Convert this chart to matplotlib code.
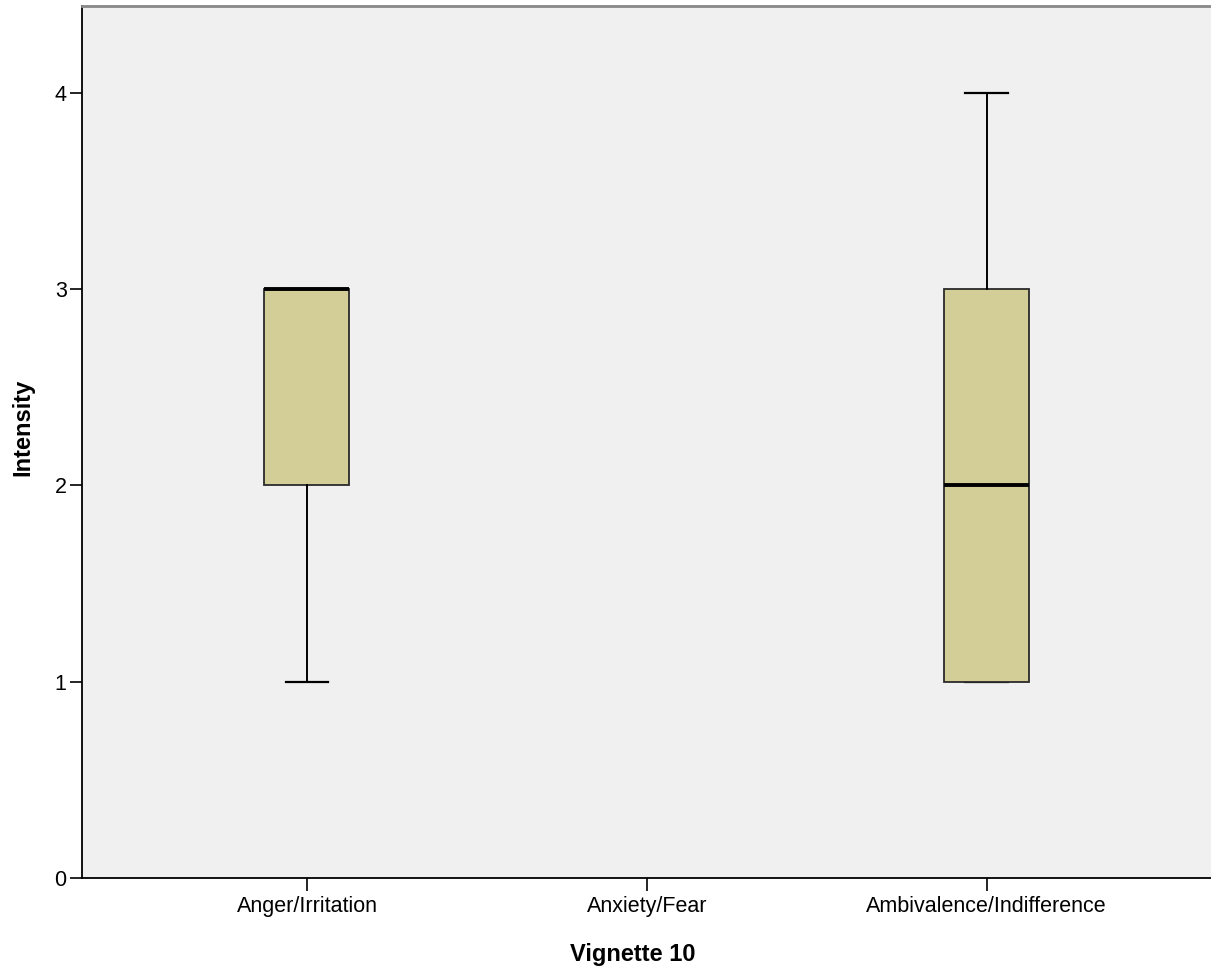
import numpy as np
import matplotlib.pyplot as plt

plt.rcParams['font.family'] = ['Liberation Sans', 'DejaVu Sans']

# Vignette 10 - intensity by emotion category
categories = ['Anger/Irritation', 'Anxiety/Fear', 'Ambivalence/Indifference']
whislo = [1, None, 1]
q1 = [2, None, 1]
med = [3, None, 2]
q3 = [3, None, 3]
whishi = [3, None, 4]
yticks = [0, 1, 2, 3, 4]

fig = plt.figure(figsize=(12.11, 9.71), dpi=100)
ax = fig.add_axes([0.0677, 0.0958, 0.9323, 0.898])
ax.set_facecolor('#f0f0f0')

positions = np.arange(1, len(categories) + 1)
stats = []
pos_used = []
for i, name in enumerate(categories):
    if med[i] is None:
        continue
    stats.append({'label': name, 'whislo': whislo[i], 'q1': q1[i], 'med': med[i],
                  'q3': q3[i], 'whishi': whishi[i], 'fliers': []})
    pos_used.append(positions[i])

ax.bxp(stats, positions=pos_used, widths=0.25, patch_artist=True,
       showfliers=False, manage_ticks=False,
       boxprops=dict(facecolor='#d3ce98', edgecolor='#2a2a2a', linewidth=1.3),
       medianprops=dict(color='black', linewidth=2.8),
       whiskerprops=dict(color='black', linewidth=1.4),
       capprops=dict(color='black', linewidth=1.6, zorder=1.5),
       capwidths=0.125)

ax.set_xlim(0.338, 3.66)
ax.set_ylim(0, 4.443)
ax.set_xticks(positions)
ax.set_xticklabels(categories)
ax.set_yticks(yticks)

ax.tick_params(axis='both', direction='out', length=9, width=1.2, labelsize=15.5,
               color='black', labelcolor='black')
ax.tick_params(axis='x', pad=4)
ax.tick_params(axis='y', pad=2)

for s in ['left', 'bottom']:
    ax.spines[s].set_linewidth(1.3)
    ax.spines[s].set_color('black')
ax.spines['top'].set_color('#888888')
ax.spines['top'].set_linewidth(2)
ax.spines['right'].set_visible(False)

ax.set_xlabel('Vignette 10', fontsize=17, fontweight='bold')
ax.set_ylabel('Intensity', fontsize=17, fontweight='bold')
ax.xaxis.set_label_coords(0.488, -0.075)
ax.yaxis.set_label_coords(-0.042, 0.517)

fig.savefig('out.png', dpi=100)
